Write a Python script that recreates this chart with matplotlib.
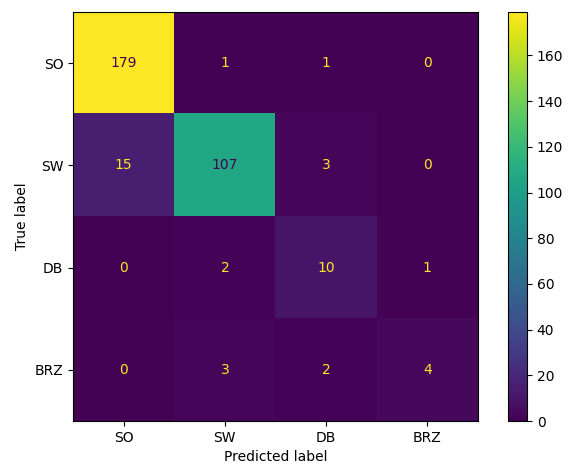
import numpy as np
import matplotlib.pyplot as plt

labels = ["SO", "SW", "DB", "BRZ"]
cm = np.array([
    [179, 1, 1, 0],
    [15, 107, 3, 0],
    [0, 2, 10, 1],
    [0, 3, 2, 4],
])

fig = plt.figure(figsize=(5.68, 4.69), dpi=100)
ax = fig.add_axes([73 / 568, 48 / 469, 405 / 568, 409 / 469])
cax = fig.add_axes([508 / 568, 48 / 469, 19 / 568, 409 / 469])

cmap = plt.get_cmap("viridis")
im = ax.imshow(cm, cmap=cmap, interpolation="nearest", aspect="auto")
cb = fig.colorbar(im, cax=cax)
cb.set_ticks(np.arange(0, 180, 20))
cb.ax.tick_params(labelsize=10)

thresh = (cm.max() + cm.min()) / 2
for i in range(cm.shape[0]):
    for j in range(cm.shape[1]):
        col = cmap(0) if cm[i, j] > thresh else cmap(256)
        ax.text(j, i, str(cm[i, j]), ha="center", va="center", color=col, fontsize=10)

ax.set_xticks(range(len(labels)))
ax.set_xticklabels(labels)
ax.set_yticks(range(len(labels)))
ax.set_yticklabels(labels)
ax.tick_params(labelsize=10)
ax.set_xlabel("Predicted label", fontsize=10)
ax.set_ylabel("True label", fontsize=10)

fig.savefig("out.png", dpi=100)
